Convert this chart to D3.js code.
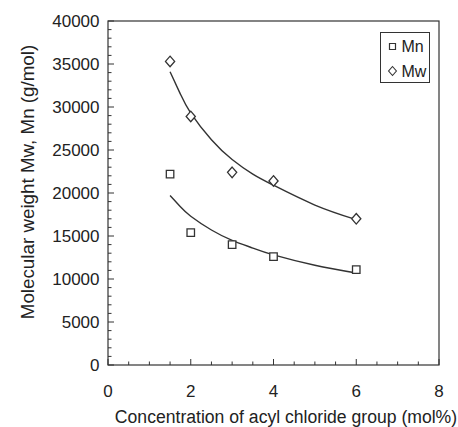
<!DOCTYPE html>
<html>
<head>
<meta charset="utf-8">
<script src="https://cdn.jsdelivr.net/npm/d3@7"></script>
<style>
  body { margin: 0; background: #fff; }
  text { font-family: "Liberation Sans", Arial, sans-serif; fill: #222; }
</style>
</head>
<body>
<div id="chart"></div>
<script>
// measured points
const conc = [1.5, 2, 3, 4, 6];
const mnValues = [22200, 15400, 14000, 12600, 11100];
const mwValues = [35300, 28900, 22400, 21400, 17000];

// trend lines
const fitX = [1.5, 1.75, 2, 2.5, 3, 3.5, 4, 5, 6];
const mnFit = [19700, 18400, 17300, 15700, 14500, 13600, 12800, 11600, 10700];
const mwFit = [34100, 31500, 29300, 26200, 23900, 22200, 20900, 18600, 16900];

const xTicks = [0, 2, 4, 6, 8];
const yTicks = [0, 5000, 10000, 15000, 20000, 25000, 30000, 35000, 40000];

const width = 458, height = 427;
const margin = {top: 21, right: 19, bottom: 62, left: 108};
const ink = "#333";

const svg = d3.select("#chart").append("svg")
    .attr("width", width)
    .attr("height", height);

const x = d3.scaleLinear().domain([0, 8]).range([margin.left, width - margin.right]);
const y = d3.scaleLinear().domain([0, 40000]).range([height - margin.bottom, margin.top]);

// frame
svg.append("rect")
    .attr("x", x(0)).attr("y", y(40000))
    .attr("width", x(8) - x(0)).attr("height", y(0) - y(40000))
    .attr("fill", "none").attr("stroke", ink).attr("stroke-width", 1.2);

// ticks (inward), longer on the labelled ones
svg.append("g").selectAll("line")
    .data(d3.range(0, 8.01, 0.5))
    .enter().append("line")
    .attr("x1", d => x(d)).attr("x2", d => x(d))
    .attr("y1", y(0)).attr("y2", d => y(0) - (d % 2 === 0 ? 6 : 3.5))
    .attr("stroke", ink).attr("stroke-width", 1);

svg.append("g").selectAll("line")
    .data(d3.range(0, 40001, 1000))
    .enter().append("line")
    .attr("y1", d => y(d)).attr("y2", d => y(d))
    .attr("x1", x(0)).attr("x2", d => x(0) + (d % 5000 === 0 ? 6 : 3.5))
    .attr("stroke", ink).attr("stroke-width", 1);

// tick labels
svg.append("g").selectAll("text")
    .data(xTicks)
    .enter().append("text")
    .attr("x", d => x(d)).attr("y", y(0) + 32)
    .attr("text-anchor", "middle")
    .style("font-size", "17px")
    .text(d => d);

svg.append("g").selectAll("text")
    .data(yTicks)
    .enter().append("text")
    .attr("x", x(0) - 8.5).attr("y", d => y(d))
    .attr("dy", "0.36em")
    .attr("text-anchor", "end")
    .style("font-size", "17px")
    .text(d => d);

// axis titles
svg.append("text")
    .attr("x", 286).attr("y", 422.5)
    .attr("text-anchor", "middle")
    .style("font-size", "17.6px")
    .text("Concentration of acyl chloride group (mol%)");

svg.append("text")
    .attr("transform", "translate(34,182) rotate(-90)")
    .attr("text-anchor", "middle")
    .style("font-size", "18.8px")
    .text("Molecular weight Mw, Mn (g/mol)");

// trend lines
const line = d3.line()
    .x(d => x(d[0])).y(d => y(d[1]))
    .curve(d3.curveNatural);

[mnFit, mwFit].forEach(fit => {
    svg.append("path")
        .attr("d", line(fitX.map((v, i) => [v, fit[i]])))
        .attr("fill", "none").attr("stroke", ink).attr("stroke-width", 1.4);
});

// markers
const square = d3.symbol().type(d3.symbolSquare).size(56);
const diamond = [[0, -5.3], [4.6, 0], [0, 5.3], [-4.6, 0]];
const diamondPath = "M" + diamond.join("L") + "Z";

svg.append("g").selectAll("path")
    .data(conc.map((c, i) => [c, mnValues[i]]))
    .enter().append("path")
    .attr("d", square)
    .attr("transform", d => `translate(${x(d[0])},${y(d[1])})`)
    .attr("fill", "#fff").attr("stroke", ink).attr("stroke-width", 1.3);

svg.append("g").selectAll("path")
    .data(conc.map((c, i) => [c, mwValues[i]]))
    .enter().append("path")
    .attr("d", diamondPath)
    .attr("transform", d => `translate(${x(d[0])},${y(d[1])})`)
    .attr("fill", "#fff").attr("stroke", ink).attr("stroke-width", 1.3);

// legend
const legend = svg.append("g");
legend.append("rect")
    .attr("x", 380.5).attr("y", 32.5).attr("width", 49).attr("height", 50)
    .attr("fill", "#fff").attr("stroke", ink).attr("stroke-width", 1);

legend.append("path")
    .attr("d", d3.symbol().type(d3.symbolSquare).size(36))
    .attr("transform", "translate(392.5,46.5)")
    .attr("fill", "#fff").attr("stroke", ink).attr("stroke-width", 1.2);
legend.append("path")
    .attr("d", diamondPath)
    .attr("transform", "translate(392.5,71) scale(0.85)")
    .attr("fill", "#fff").attr("stroke", ink).attr("stroke-width", 1.3);

legend.append("text").attr("x", 401.5).attr("y", 46.5).attr("dy", "0.36em")
    .style("font-size", "16px").text("Mn");
legend.append("text").attr("x", 401.5).attr("y", 71).attr("dy", "0.36em")
    .style("font-size", "16px").text("Mw");
</script>
</body>
</html>
